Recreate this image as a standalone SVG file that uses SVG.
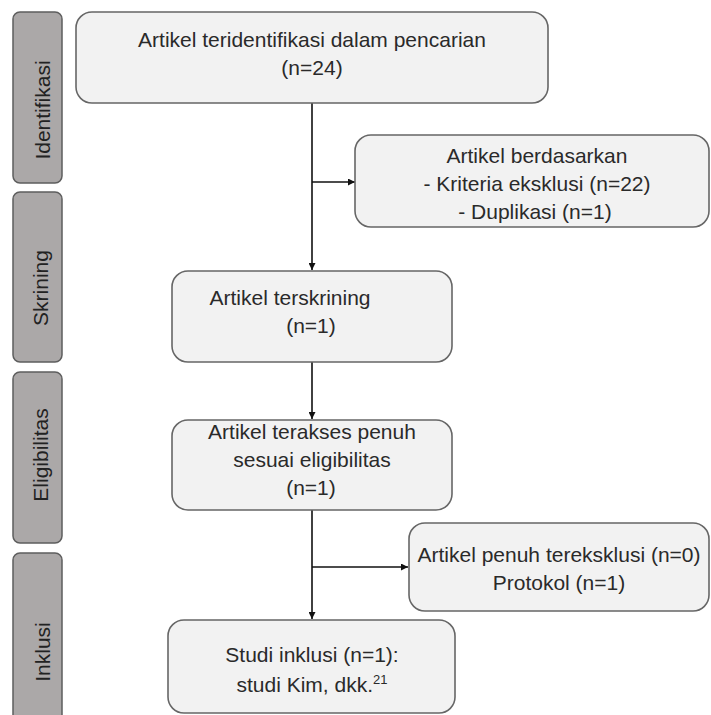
<svg xmlns="http://www.w3.org/2000/svg" width="711" height="715" viewBox="0 0 711 715">
<defs>
<style>
.bar{fill:#aba8a8;stroke:#5e5e5e;stroke-width:1.5}
.box{fill:#f2f2f2;stroke:#666;stroke-width:1.6}
.t{font-family:"Liberation Sans",Arial,sans-serif;font-size:21px;fill:#2a2a2a;text-anchor:middle}
.lbl{font-family:"Liberation Sans",Arial,sans-serif;font-size:21px;fill:#222;text-anchor:middle}
.ln{stroke:#111;stroke-width:1.6;fill:none}
</style>
<marker id="ah" viewBox="0 0 10 10" refX="10" refY="5" markerWidth="7" markerHeight="7" markerUnits="userSpaceOnUse" orient="auto">
<path d="M0,0 L10,5 L0,10 z" fill="#111"/>
</marker>
</defs>
<rect width="711" height="715" fill="#fff"/>
<g id="stage-identifikasi">
<rect class="bar" x="13" y="12" width="49" height="171" rx="7"/>
<text class="lbl" transform="translate(50,110) rotate(-90)">Identifikasi</text>
</g>
<g id="stage-skrining">
<rect class="bar" x="13" y="192" width="49" height="170" rx="7"/>
<text class="lbl" transform="translate(48,288) rotate(-90)">Skrining</text>
</g>
<g id="stage-eligibilitas">
<rect class="bar" x="13" y="372" width="49" height="171" rx="7"/>
<text class="lbl" transform="translate(48,455) rotate(-90)">Eligibilitas</text>
</g>
<g id="stage-inklusi">
<rect class="bar" x="13" y="553" width="49" height="180" rx="7"/>
<text class="lbl" transform="translate(50,652) rotate(-90)">Inklusi</text>
</g>
<g id="connectors">
<path class="ln" d="M312,103 L312,270" marker-end="url(#ah)"/>
<path class="ln" d="M312,182 L355,182" marker-end="url(#ah)"/>
<path class="ln" d="M312,362 L312,419" marker-end="url(#ah)"/>
<path class="ln" d="M312,510 L312,619" marker-end="url(#ah)"/>
<path class="ln" d="M312,567 L408,567" marker-end="url(#ah)"/>
</g>
<g id="node-identified">
<rect class="box" x="76" y="12" width="472" height="91" rx="16"/>
<text class="t" x="312" y="47">Artikel teridentifikasi dalam pencarian</text>
<text class="t" x="312" y="75">(n=24)</text>
</g>
<g id="node-excluded">
<rect class="box" x="355" y="135" width="354" height="92" rx="16"/>
<text class="t" x="537" y="163">Artikel berdasarkan</text>
<text class="t" x="537" y="191">- Kriteria eksklusi (n=22)</text>
<text class="t" x="535" y="219">- Duplikasi (n=1)</text>
</g>
<g id="node-screened">
<rect class="box" x="172" y="271" width="280" height="91" rx="16"/>
<text class="t" x="290" y="305">Artikel terskrining</text>
<text class="t" x="311" y="333">(n=1)</text>
</g>
<g id="node-eligible">
<rect class="box" x="172" y="420" width="280" height="90" rx="16"/>
<text class="t" x="312" y="439">Artikel terakses penuh</text>
<text class="t" x="312" y="467">sesuai eligibilitas</text>
<text class="t" x="311" y="495">(n=1)</text>
</g>
<g id="node-fulltext-excluded">
<rect class="box" x="409" y="523" width="300" height="88" rx="16"/>
<text class="t" x="559" y="562">Artikel penuh tereksklusi (n=0)</text>
<text class="t" x="559" y="590">Protokol (n=1)</text>
</g>
<g id="node-included">
<rect class="box" x="168" y="620" width="287" height="93" rx="16"/>
<text class="t" x="312" y="662">Studi inklusi (n=1):</text>
<text class="t" x="312" y="692">studi Kim, dkk.<tspan font-size="13" dy="-8">21</tspan></text>
</g>
</svg>
